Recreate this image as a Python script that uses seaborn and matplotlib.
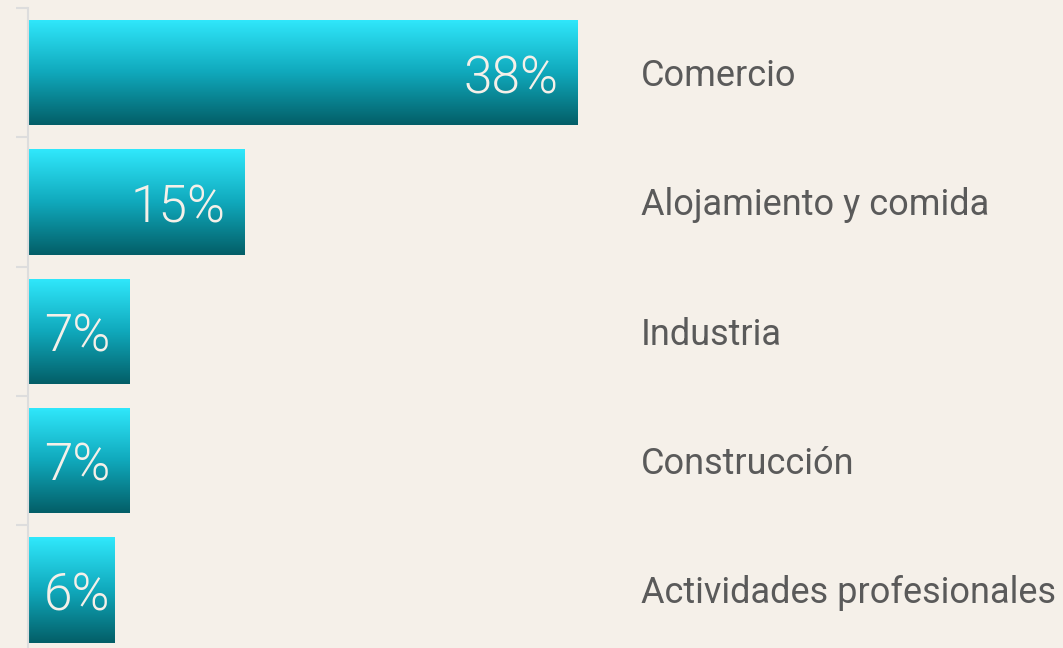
import numpy as np
import pandas as pd
import matplotlib
matplotlib.use("Agg")
import matplotlib.pyplot as plt
from matplotlib.colors import LinearSegmentedColormap
import seaborn as sns

# datos
categorias = ["Comercio", "Alojamiento y comida", "Industria", "Construcción",
              "Actividades profesionales"]
porcentajes = [38, 15, 7, 7, 6]

df = pd.DataFrame({"categoria": categorias, "valor": porcentajes})

fondo = "#F5F0E9"
sns.set_style("white")
plt.rcParams["font.family"] = ["Roboto", "DejaVu Sans"]

fig = plt.figure(figsize=(10.63, 6.48), dpi=100, facecolor=fondo)
ax = fig.add_axes([27.5 / 1063, -6.5 / 648, 1035.5 / 1063, 646.5 / 648])
ax.set_facecolor(fondo)

sns.barplot(data=df, x="valor", y="categoria", orient="h", width=0.815,
            color="#0a9aab", ax=ax)

# degradado vertical en cada barra
cmap = LinearSegmentedColormap.from_list("grad", ["#30E8FC", "#10A9BC", "#035E67"])
grad = np.linspace(0, 1, 256).reshape(-1, 1)
for p in ax.patches:
    x0, y0 = p.get_x(), p.get_y()
    w, h = p.get_width(), p.get_height()
    im = ax.imshow(grad, cmap=cmap, aspect="auto", origin="upper",
                   extent=[x0, x0 + w, y0 + h, y0], zorder=2)
    im.set_clip_path(p)
    p.set_facecolor("none")
    p.set_edgecolor("none")

ax.set_xlim(0, 1035.5 / 14.46)
ax.set_ylim(len(categorias) - 0.5, -0.5)

for i, (cat, v) in enumerate(zip(categorias, porcentajes)):
    if v >= 10:
        ax.text(v - 1.3, i + 0.158, f"{v}%", ha="right", va="baseline", color=fondo,
                fontsize=37, fontweight=300, zorder=3)
    else:
        ax.text(1.15, i + 0.158, f"{v}%", ha="left", va="baseline", color=fondo,
                fontsize=37, fontweight=300, zorder=3)
    ax.text(42.4, i + 0.104, cat, ha="left", va="baseline", color="#5a5a5a", fontsize=26)

ax.set_yticks([i - 0.5 for i in range(len(categorias) + 1)])
ax.set_yticklabels([])
ax.set_xticks([])
ax.set_xlabel("")
ax.set_ylabel("")
ax.tick_params(axis="y", length=8.6, width=1.5, color="#DDDDDD", left=True)
for s in ["top", "right", "bottom"]:
    ax.spines[s].set_visible(False)
ax.spines["left"].set_color("#DDDDDD")
ax.spines["left"].set_linewidth(1.5)

fig.savefig("out.png", dpi=100, facecolor=fondo)
